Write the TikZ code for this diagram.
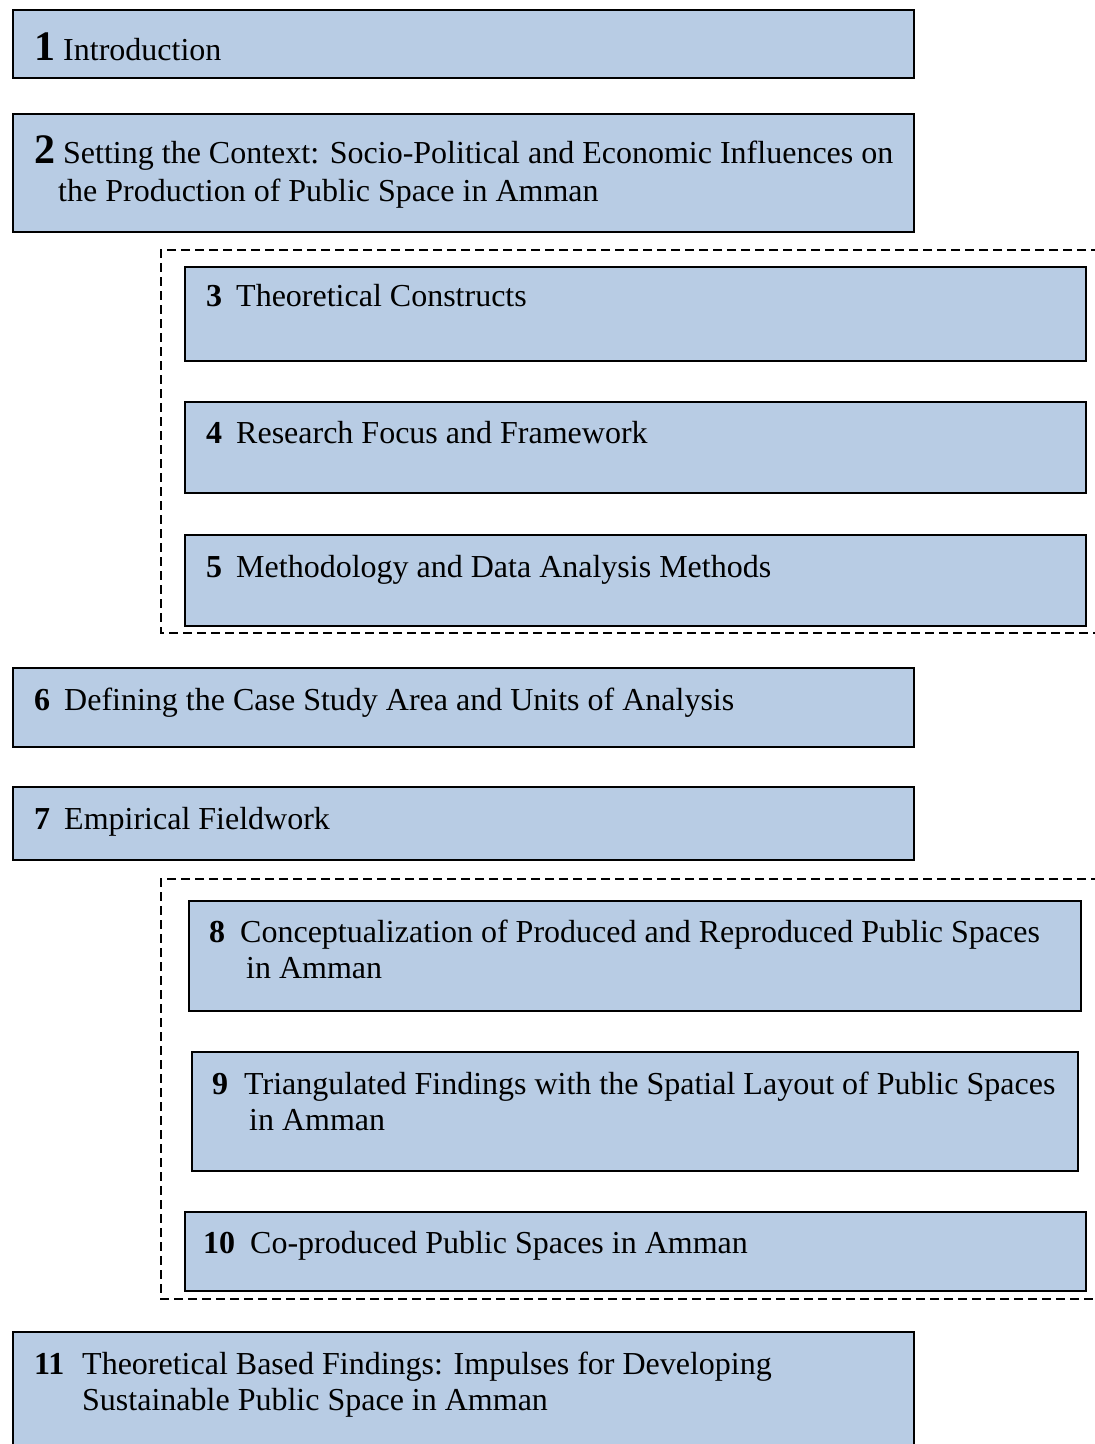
\documentclass[tikz,border=0pt]{standalone}
\usepackage{fontspec}
\setmainfont{Liberation Serif}
\usetikzlibrary{positioning}
\definecolor{chapfill}{HTML}{B8CCE4}
\tikzset{
  chap/.style={draw=black, line width=1.5pt, fill=chapfill, anchor=north west, inner sep=0pt},
  txt/.style={anchor=base west, inner sep=0pt, font=\fontsize{32}{38}\selectfont},
  num/.style={txt, font=\fontsize{32}{38}\selectfont\bfseries},
  bignum/.style={txt, font=\fontsize{42}{48}\selectfont\bfseries},
  grp/.style={line width=1.5pt, dash pattern=on 9pt off 5pt}
}
\begin{document}
\begin{tikzpicture}[x=1pt, y=-1pt]
  \clip (0,0) rectangle (1095,1444);
  \fill[white] (0,0) rectangle (1095,1444);

  % chapters 1 and 2
  \node[chap, minimum width=901, minimum height=68] (c1) at (12,9) {};
  \node[bignum] (n1) at (34,60) {1};
  \node[txt] (t1) at (63,60) {Introduction};

  \node[chap, minimum width=901, minimum height=118] (c2) at (12,113) {};
  \node[bignum] (n2) at (34,163) {2};
  \node[txt] (t2a) at (63,163) {Setting the Context: Socio-Political and Economic Influences on};
  \node[txt] (t2b) at (58,201) {the Production of Public Space in Amman};

  % first group
  \coordinate (g1a) at (1100,250);
  \coordinate (g1b) at (1100,633);
  \draw[grp] (g1a) -- (161,250) -- (161,633) -- (g1b);

  \node[chap, minimum width=901, minimum height=94] (c3) at (184,266) {};
  \node[num] (n3) at (206,306) {3};
  \node[txt] (t3) at (236,306) {Theoretical Constructs};

  \node[chap, minimum width=901, minimum height=91] (c4) at (184,401) {};
  \node[num] (n4) at (206,443) {4};
  \node[txt] (t4) at (236,443) {Research Focus and Framework};

  \node[chap, minimum width=901, minimum height=91] (c5) at (184,534) {};
  \node[num] (n5) at (206,577) {5};
  \node[txt] (t5) at (236,577) {Methodology and Data Analysis Methods};

  % chapters 6 and 7
  \node[chap, minimum width=901, minimum height=79] (c6) at (12,667) {};
  \node[num] (n6) at (34,710) {6};
  \node[txt] (t6) at (64,710) {Defining the Case Study Area and Units of Analysis};

  \node[chap, minimum width=901, minimum height=73] (c7) at (12,786) {};
  \node[num] (n7) at (34,829) {7};
  \node[txt] (t7) at (64,829) {Empirical Fieldwork};

  % second group
  \coordinate (g2a) at (1100,879);
  \coordinate (g2b) at (1100,1299);
  \draw[grp] (g2a) -- (161,879) -- (161,1299) -- (g2b);

  \node[chap, minimum width=892, minimum height=110] (c8) at (188,900) {};
  \node[num] (n8) at (209,942) {8};
  \node[txt] (t8a) at (240,942) {Conceptualization of Produced and Reproduced Public Spaces};
  \node[txt] (t8b) at (246,978) {in Amman};

  \node[chap, minimum width=886, minimum height=119] (c9) at (191,1051) {};
  \node[num] (n9) at (212,1094) {9};
  \node[txt] (t9a) at (244,1094) {Triangulated Findings with the Spatial Layout of Public Spaces};
  \node[txt] (t9b) at (249,1130) {in Amman};

  \node[chap, minimum width=901, minimum height=79] (c10) at (184,1211) {};
  \node[num] (n10) at (203,1253) {10};
  \node[txt] (t10) at (250,1253) {Co-produced Public Spaces in Amman};

  % chapter 11
  \node[chap, minimum width=901, minimum height=140] (c11) at (12,1331) {};
  \node[num] (n11) at (34,1374) {11};
  \node[txt] (t11a) at (82,1374) {Theoretical Based Findings: Impulses for Developing};
  \node[txt] (t11b) at (82,1410) {Sustainable Public Space in Amman};
\end{tikzpicture}
\end{document}
